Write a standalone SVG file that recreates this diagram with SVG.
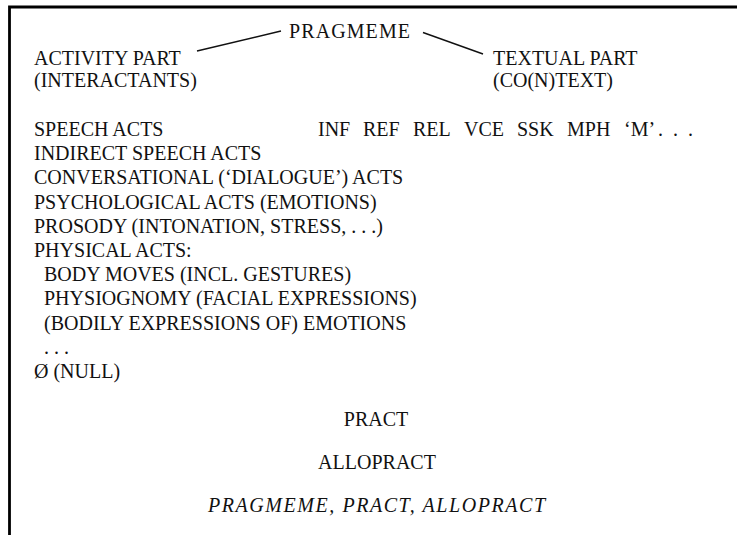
<svg xmlns="http://www.w3.org/2000/svg" width="737" height="535" viewBox="0 0 737 535">
<style>
text{font-family:"Liberation Serif","Times New Roman",serif;font-size:20px;fill:#111}
.it{font-style:italic}
.c{text-anchor:middle}
.ln{stroke:#111;stroke-width:1.4;fill:none}
</style>
<rect width="737" height="535" fill="#fff"/>
<g id="frame"><path d="M9.5,535 V7 H737" stroke="#000" stroke-width="2.8" fill="none"/></g>
<g id="pragmeme"><text x="349.5" y="37.5" class="c" textLength="121" lengthAdjust="spacing">PRAGMEME</text></g>
<g id="activity"><text x="34" y="65">ACTIVITY PART</text><text x="34" y="87">(INTERACTANTS)</text></g>
<g id="textual"><text x="493" y="65">TEXTUAL PART</text><text x="493" y="87">(CO(N)TEXT)</text></g>
<g id="connectors">
<line class="ln" x1="197" y1="51" x2="281" y2="31"/>
<line class="ln" x1="423" y1="32.5" x2="483" y2="54"/>
</g>
<g id="acts">
<text x="34" y="136">SPEECH ACTS</text>
<text x="34" y="160.2">INDIRECT SPEECH ACTS</text>
<text x="34" y="184.4">CONVERSATIONAL (‘DIALOGUE’) ACTS</text>
<text x="34" y="208.6">PSYCHOLOGICAL ACTS (EMOTIONS)</text>
<text x="34" y="232.8">PROSODY (INTONATION, STRESS, . . .)</text>
<text x="34" y="257">PHYSICAL ACTS:</text>
<text x="44" y="281.2">BODY MOVES (INCL. GESTURES)</text>
<text x="44" y="305.4">PHYSIOGNOMY (FACIAL EXPRESSIONS)</text>
<text x="44" y="329.6">(BODILY EXPRESSIONS OF) EMOTIONS</text>
<text x="44" y="353.8">. . .</text>
<text x="34" y="378">Ø (NULL)</text>
</g>
<g id="textual-items">
<text x="318" y="136">INF</text>
<text x="363" y="136">REF</text>
<text x="413" y="136">REL</text>
<text x="464" y="136">VCE</text>
<text x="517" y="136">SSK</text>
<text x="567" y="136">MPH</text>
<text x="624" y="136">‘M’<tspan dx="3" letter-spacing="2.5">. . .</tspan></text>
</g>
<g id="pract"><text x="376" y="426" class="c">PRACT</text></g>
<g id="allopract"><text x="377" y="469" class="c">ALLOPRACT</text></g>
<g id="caption"><text x="376.5" y="512" class="c it" textLength="337" lengthAdjust="spacing">PRAGMEME, PRACT, ALLOPRACT</text></g>
</svg>
